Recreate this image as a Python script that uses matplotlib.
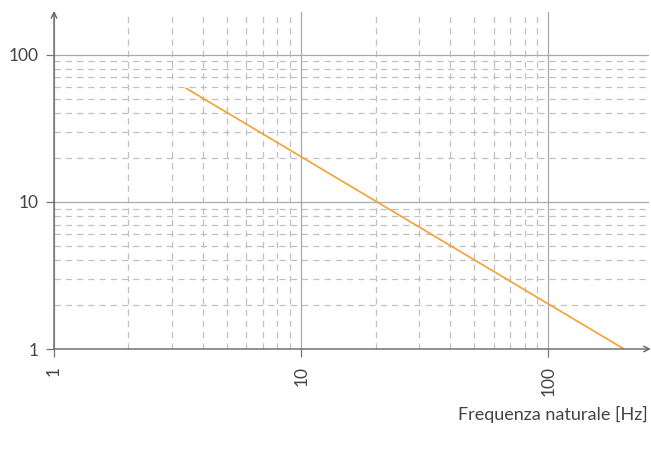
import matplotlib.pyplot as plt
from matplotlib.ticker import FixedLocator, NullFormatter

# data
freq = [3.43, 200]
values = [59, 1.01]

major_ticks = [1, 10, 100]
major_labels = ['1', '10', '100']
minor_ticks = [2, 3, 4, 5, 6, 7, 8, 9, 20, 30, 40, 50, 60, 70, 80, 90]
x_label = 'Frequenza naturale [Hz]'

plt.rcParams['font.family'] = ['Lato', 'DejaVu Sans']

fig = plt.figure(figsize=(6.51, 4.54), dpi=100)
W, H = 651, 454
ax = fig.add_axes([54 / W, (H - 349) / H, (649 - 54) / W, (349 - 12) / H])

ax.set_xscale('log')
ax.set_yscale('log')
ax.set_xlim(1, 255)
ax.set_ylim(1, 195)

ax.plot(freq, values, color='#f5a033', lw=1.2, zorder=3)

for s in ax.spines.values():
    s.set_visible(False)

ax.xaxis.set_major_locator(FixedLocator(major_ticks))
ax.yaxis.set_major_locator(FixedLocator(major_ticks))
ax.xaxis.set_minor_locator(FixedLocator(minor_ticks))
ax.yaxis.set_minor_locator(FixedLocator(minor_ticks))
ax.xaxis.set_minor_formatter(NullFormatter())
ax.yaxis.set_minor_formatter(NullFormatter())
ax.set_xticklabels(major_labels, rotation=90, va='top')
ax.set_yticklabels(major_labels)

ax.tick_params(which='major', length=6, width=0.9, color='#777777',
               labelsize=12.5, labelcolor='#444444')
ax.tick_params(axis='x', which='major', pad=6)
ax.tick_params(axis='y', which='major', pad=5)
ax.tick_params(which='minor', length=0)

ax.grid(which='major', color='#aaaaaa', lw=0.9, ls='-')
ax.grid(which='minor', color='#c0c0c0', lw=0.9, ls=(0, (5, 4)))
ax.set_axisbelow(True)

# axes with arrow heads
ax.annotate('', xy=(1.003, 0), xytext=(0, 0), xycoords='axes fraction',
            arrowprops=dict(arrowstyle='->', color='#666666', lw=1.0,
                            shrinkA=0, shrinkB=0), annotation_clip=False)
ax.annotate('', xy=(0, 1.003), xytext=(0, 0), xycoords='axes fraction',
            arrowprops=dict(arrowstyle='->', color='#666666', lw=1.0,
                            shrinkA=0, shrinkB=0), annotation_clip=False)

fig.text(648 / W, 1 - 414 / H, x_label, ha='right', va='center',
         fontsize=13, color='#444444')

fig.savefig('out.png', dpi=100)
